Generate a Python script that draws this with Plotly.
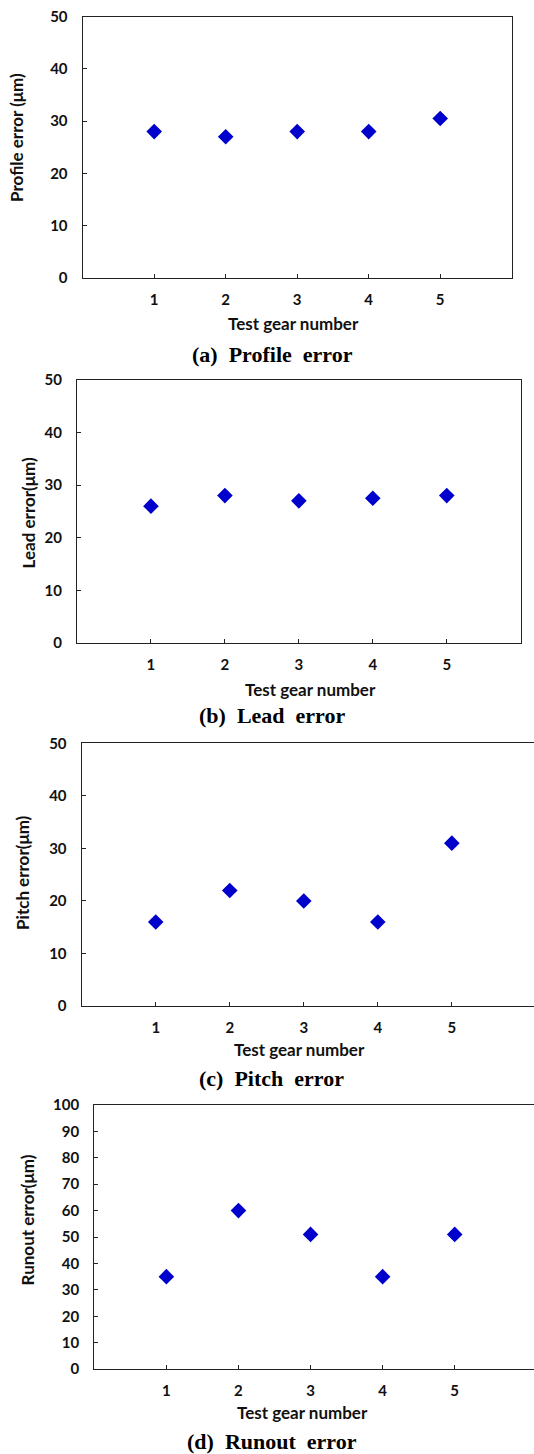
import plotly.graph_objects as go

# ---------------- data ----------------
gears = [1, 2, 3, 4, 5]
gear_tick_labels = ["1", "2", "3", "4", "5"]
profile_err = [28, 27, 28, 28, 30.5]
lead_err = [26, 28, 27, 27.5, 28]
pitch_err = [16, 22, 20, 16, 31]
runout_err = [35, 60, 51, 35, 51]

series = [profile_err, lead_err, pitch_err, runout_err]
y_titles = ["Profile error (μm)", "Lead error(μm)", "Pitch error(μm)", "Runout error(μm)"]
x_title = "Test gear number"
captions = ["(a)  Profile  error", "(b)  Lead  error", "(c)  Pitch  error", "(d)  Runout  error"]
y_max = [50, 50, 50, 100]

# ---------------- layout (pixels, as seen in the target picture) ----------------
W, H = 534, 1454
panels = [
    dict(x0=82.7, x1=511.7, xr=6.0, top=14.7, bot=276.0, right=True,
         ytx=17, yty=136, xtx=293, xty=322, cx=272, cy=353),
    dict(x0=77.0, x1=520.7, xr=6.0, top=378.3, bot=641.7, right=True,
         ytx=28, yty=512, xtx=310, xty=688, cx=272, cy=714),
    dict(x0=81.7, x1=534.0, xr=6.11, top=742.3, bot=1005.3, right=False,
         ytx=23, yty=872, xtx=299, xty=1049, cx=271, cy=1078),
    dict(x0=94.3, x1=534.0, xr=6.1, top=1104.3, bot=1369.0, right=False,
         ytx=27, yty=1220, xtx=302, xty=1412, cx=272, cy=1441),
]

# the capture compresses the page slightly in height; map target rows to figure rows
V_SCALE, V_OFF = 0.989, 8.0


def fy(y_px):
    """target picture row -> paper fraction (from bottom)"""
    y_fig = y_px / V_SCALE - V_OFF
    return 1 - y_fig / H


tick_font = dict(family="Lato, Carlito, Calibri, sans-serif", size=15, color="#111111", weight="bold")
title_font = dict(family="Lato, Carlito, Calibri, sans-serif", size=17, color="#111111")
cap_font = dict(family="Liberation Serif, Times New Roman, serif", size=22, color="#000000")

fig = go.Figure()
layout = dict(
    width=W, height=H, margin=dict(l=0, r=0, t=0, b=0),
    paper_bgcolor="white", plot_bgcolor="white", showlegend=False,
)
annotations = []

for i, (p, vals) in enumerate(zip(panels, series)):
    n = "" if i == 0 else str(i + 1)
    fig.add_trace(go.Scatter(
        x=gears, y=vals, mode="markers",
        xaxis="x" + n, yaxis="y" + n,
        marker=dict(symbol="diamond", size=12, color="#0000CC"),
    ))
    layout["xaxis" + n] = dict(
        domain=[p["x0"] / W, p["x1"] / W], range=[0, p["xr"]],
        anchor="y" + n, tickvals=gears, ticktext=gear_tick_labels,
        showgrid=False, zeroline=False, showline=True, linecolor="#222222", linewidth=1.3,
        mirror=True, ticks="inside", ticklen=4, tickcolor="#222222",
        tickfont=tick_font, ticklabelstandoff=8,
    )
    layout["yaxis" + n] = dict(
        domain=[fy(p["bot"]), fy(p["top"])], range=[0, y_max[i]],
        anchor="x" + n, dtick=10, showgrid=False, zeroline=False,
        showline=True, linecolor="#222222", linewidth=1.3,
        mirror=p["right"], ticks="inside", ticklen=4, tickcolor="#222222",
        tickfont=tick_font, ticklabelstandoff=11,
    )
    annotations.append(dict(
        text="<b>" + y_titles[i] + "</b>", xref="paper", yref="paper",
        x=p["ytx"] / W, y=fy(p["yty"]), textangle=-90, showarrow=False,
        xanchor="center", yanchor="middle", font=title_font,
    ))
    annotations.append(dict(
        text="<b>" + x_title + "</b>", xref="paper", yref="paper",
        x=p["xtx"] / W, y=fy(p["xty"]), showarrow=False,
        xanchor="center", yanchor="middle", font=title_font,
    ))
    annotations.append(dict(
        text="<b>" + captions[i].replace("  ", "&nbsp; ") + "</b>", xref="paper", yref="paper",
        x=p["cx"] / W, y=fy(p["cy"]), showarrow=False,
        xanchor="center", yanchor="middle", font=cap_font,
    ))

layout["annotations"] = annotations
fig.update_layout(**layout)

css_fix = (
    "var s=document.createElement('style');"
    "s.textContent='html,body{margin:0!important;padding:0!important;overflow:hidden!important;}';"
    "document.head.appendChild(s);window.scrollTo(0,0);"
)
fig.write_html(
    "out.html",
    config={"displayModeBar": False},
    post_script=css_fix,
)
